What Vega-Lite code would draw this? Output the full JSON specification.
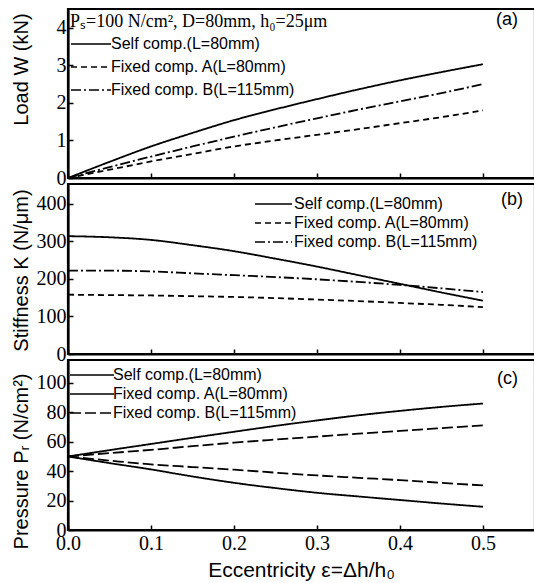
{
"$schema":"https://vega.github.io/schema/vega-lite/v6.json",
"padding":{"left":9,"top":7,"right":0,"bottom":0},
"spacing":6,
"bounds":"flush",
"config":{
 "view":{"stroke":"black","strokeWidth":2.2},
 "font":"Liberation Sans",
 "title":{"font":"Liberation Sans","fontSize":18,"fontWeight":"normal","color":"black","anchor":"end","frame":"group"},
 "axis":{"labelFont":"Liberation Serif","labelFontSize":20,"labelColor":"black","titleFont":"Liberation Sans","titleFontSize":20,"titleFontWeight":"normal","titleColor":"black","domainColor":"black","domainWidth":2.2,"tickColor":"black","tickWidth":1.5,"tickSize":-5,"grid":false,"labelFlush":false,"labelOverlap":false},
 "legend":{"symbolType":"M-1,0H3","symbolSize":400,"symbolStrokeColor":"black","symbolStrokeWidth":1.7,"labelFont":"Liberation Sans","labelFontSize":16,"labelColor":"black","labelOffset":19,"rowPadding":0,"padding":0,"titleFont":"Liberation Serif","titleFontSize":18,"titleFontWeight":"normal","titleColor":"black","titleLimit":400,"labelLimit":300}
},
"datasets":{"d":[
{"p":"a","s":"Self comp.(L=80mm)","b":"u","x":0,"y":0},{"p":"a","s":"Self comp.(L=80mm)","b":"u","x":0.05,"y":0.43},{"p":"a","s":"Self comp.(L=80mm)","b":"u","x":0.1,"y":0.84},{"p":"a","s":"Self comp.(L=80mm)","b":"u","x":0.15,"y":1.2},{"p":"a","s":"Self comp.(L=80mm)","b":"u","x":0.2,"y":1.54},{"p":"a","s":"Self comp.(L=80mm)","b":"u","x":0.25,"y":1.83},{"p":"a","s":"Self comp.(L=80mm)","b":"u","x":0.3,"y":2.1},{"p":"a","s":"Self comp.(L=80mm)","b":"u","x":0.35,"y":2.36},{"p":"a","s":"Self comp.(L=80mm)","b":"u","x":0.4,"y":2.6},{"p":"a","s":"Self comp.(L=80mm)","b":"u","x":0.45,"y":2.82},{"p":"a","s":"Self comp.(L=80mm)","b":"u","x":0.5,"y":3.03},
{"p":"a","s":"Fixed comp. A(L=80mm)","b":"u","x":0,"y":0},{"p":"a","s":"Fixed comp. A(L=80mm)","b":"u","x":0.05,"y":0.22},{"p":"a","s":"Fixed comp. A(L=80mm)","b":"u","x":0.1,"y":0.44},{"p":"a","s":"Fixed comp. A(L=80mm)","b":"u","x":0.15,"y":0.64},{"p":"a","s":"Fixed comp. A(L=80mm)","b":"u","x":0.2,"y":0.84},{"p":"a","s":"Fixed comp. A(L=80mm)","b":"u","x":0.25,"y":1.0},{"p":"a","s":"Fixed comp. A(L=80mm)","b":"u","x":0.3,"y":1.15},{"p":"a","s":"Fixed comp. A(L=80mm)","b":"u","x":0.35,"y":1.3},{"p":"a","s":"Fixed comp. A(L=80mm)","b":"u","x":0.4,"y":1.46},{"p":"a","s":"Fixed comp. A(L=80mm)","b":"u","x":0.45,"y":1.62},{"p":"a","s":"Fixed comp. A(L=80mm)","b":"u","x":0.5,"y":1.8},
{"p":"a","s":"Fixed comp. B(L=115mm)","b":"u","x":0,"y":0},{"p":"a","s":"Fixed comp. B(L=115mm)","b":"u","x":0.05,"y":0.29},{"p":"a","s":"Fixed comp. B(L=115mm)","b":"u","x":0.1,"y":0.57},{"p":"a","s":"Fixed comp. B(L=115mm)","b":"u","x":0.15,"y":0.84},{"p":"a","s":"Fixed comp. B(L=115mm)","b":"u","x":0.2,"y":1.1},{"p":"a","s":"Fixed comp. B(L=115mm)","b":"u","x":0.25,"y":1.35},{"p":"a","s":"Fixed comp. B(L=115mm)","b":"u","x":0.3,"y":1.59},{"p":"a","s":"Fixed comp. B(L=115mm)","b":"u","x":0.35,"y":1.82},{"p":"a","s":"Fixed comp. B(L=115mm)","b":"u","x":0.4,"y":2.04},{"p":"a","s":"Fixed comp. B(L=115mm)","b":"u","x":0.45,"y":2.26},{"p":"a","s":"Fixed comp. B(L=115mm)","b":"u","x":0.5,"y":2.5},
{"p":"b","s":"Self comp.(L=80mm)","b":"u","x":0,"y":314},{"p":"b","s":"Self comp.(L=80mm)","b":"u","x":0.05,"y":311},{"p":"b","s":"Self comp.(L=80mm)","b":"u","x":0.1,"y":304},{"p":"b","s":"Self comp.(L=80mm)","b":"u","x":0.15,"y":290},{"p":"b","s":"Self comp.(L=80mm)","b":"u","x":0.2,"y":274},{"p":"b","s":"Self comp.(L=80mm)","b":"u","x":0.25,"y":254},{"p":"b","s":"Self comp.(L=80mm)","b":"u","x":0.3,"y":233},{"p":"b","s":"Self comp.(L=80mm)","b":"u","x":0.35,"y":210},{"p":"b","s":"Self comp.(L=80mm)","b":"u","x":0.4,"y":187},{"p":"b","s":"Self comp.(L=80mm)","b":"u","x":0.45,"y":164},{"p":"b","s":"Self comp.(L=80mm)","b":"u","x":0.5,"y":142},
{"p":"b","s":"Fixed comp. A(L=80mm)","b":"u","x":0,"y":158},{"p":"b","s":"Fixed comp. A(L=80mm)","b":"u","x":0.05,"y":157},{"p":"b","s":"Fixed comp. A(L=80mm)","b":"u","x":0.1,"y":156},{"p":"b","s":"Fixed comp. A(L=80mm)","b":"u","x":0.15,"y":154},{"p":"b","s":"Fixed comp. A(L=80mm)","b":"u","x":0.2,"y":152},{"p":"b","s":"Fixed comp. A(L=80mm)","b":"u","x":0.25,"y":149},{"p":"b","s":"Fixed comp. A(L=80mm)","b":"u","x":0.3,"y":145},{"p":"b","s":"Fixed comp. A(L=80mm)","b":"u","x":0.35,"y":141},{"p":"b","s":"Fixed comp. A(L=80mm)","b":"u","x":0.4,"y":136},{"p":"b","s":"Fixed comp. A(L=80mm)","b":"u","x":0.45,"y":131},{"p":"b","s":"Fixed comp. A(L=80mm)","b":"u","x":0.5,"y":125},
{"p":"b","s":"Fixed comp. B(L=115mm)","b":"u","x":0,"y":222},{"p":"b","s":"Fixed comp. B(L=115mm)","b":"u","x":0.05,"y":222},{"p":"b","s":"Fixed comp. B(L=115mm)","b":"u","x":0.1,"y":220},{"p":"b","s":"Fixed comp. B(L=115mm)","b":"u","x":0.15,"y":215},{"p":"b","s":"Fixed comp. B(L=115mm)","b":"u","x":0.2,"y":210},{"p":"b","s":"Fixed comp. B(L=115mm)","b":"u","x":0.25,"y":205},{"p":"b","s":"Fixed comp. B(L=115mm)","b":"u","x":0.3,"y":199},{"p":"b","s":"Fixed comp. B(L=115mm)","b":"u","x":0.35,"y":192},{"p":"b","s":"Fixed comp. B(L=115mm)","b":"u","x":0.4,"y":184},{"p":"b","s":"Fixed comp. B(L=115mm)","b":"u","x":0.45,"y":175},{"p":"b","s":"Fixed comp. B(L=115mm)","b":"u","x":0.5,"y":165},
{"p":"c","s":"Self comp.(L=80mm)","b":"u","x":0,"y":50},{"p":"c","s":"Self comp.(L=80mm)","b":"u","x":0.05,"y":54.3},{"p":"c","s":"Self comp.(L=80mm)","b":"u","x":0.1,"y":58.5},{"p":"c","s":"Self comp.(L=80mm)","b":"u","x":0.15,"y":62.7},{"p":"c","s":"Self comp.(L=80mm)","b":"u","x":0.2,"y":66.8},{"p":"c","s":"Self comp.(L=80mm)","b":"u","x":0.25,"y":70.8},{"p":"c","s":"Self comp.(L=80mm)","b":"u","x":0.3,"y":74.5},{"p":"c","s":"Self comp.(L=80mm)","b":"u","x":0.35,"y":78},{"p":"c","s":"Self comp.(L=80mm)","b":"u","x":0.4,"y":81},{"p":"c","s":"Self comp.(L=80mm)","b":"u","x":0.45,"y":83.7},{"p":"c","s":"Self comp.(L=80mm)","b":"u","x":0.5,"y":86},
{"p":"c","s":"Self comp.(L=80mm)","b":"l","x":0,"y":50},{"p":"c","s":"Self comp.(L=80mm)","b":"l","x":0.05,"y":45.5},{"p":"c","s":"Self comp.(L=80mm)","b":"l","x":0.1,"y":41.2},{"p":"c","s":"Self comp.(L=80mm)","b":"l","x":0.15,"y":36.4},{"p":"c","s":"Self comp.(L=80mm)","b":"l","x":0.2,"y":32.1},{"p":"c","s":"Self comp.(L=80mm)","b":"l","x":0.25,"y":28.5},{"p":"c","s":"Self comp.(L=80mm)","b":"l","x":0.3,"y":25.3},{"p":"c","s":"Self comp.(L=80mm)","b":"l","x":0.35,"y":22.8},{"p":"c","s":"Self comp.(L=80mm)","b":"l","x":0.4,"y":20.4},{"p":"c","s":"Self comp.(L=80mm)","b":"l","x":0.45,"y":18},{"p":"c","s":"Self comp.(L=80mm)","b":"l","x":0.5,"y":15.8},
{"p":"c","s":"Fixed comp. B(L=115mm)","b":"u","x":0,"y":50},{"p":"c","s":"Fixed comp. B(L=115mm)","b":"u","x":0.05,"y":52.3},{"p":"c","s":"Fixed comp. B(L=115mm)","b":"u","x":0.1,"y":54.5},{"p":"c","s":"Fixed comp. B(L=115mm)","b":"u","x":0.15,"y":57},{"p":"c","s":"Fixed comp. B(L=115mm)","b":"u","x":0.2,"y":59.4},{"p":"c","s":"Fixed comp. B(L=115mm)","b":"u","x":0.25,"y":61.5},{"p":"c","s":"Fixed comp. B(L=115mm)","b":"u","x":0.3,"y":63.5},{"p":"c","s":"Fixed comp. B(L=115mm)","b":"u","x":0.35,"y":65.5},{"p":"c","s":"Fixed comp. B(L=115mm)","b":"u","x":0.4,"y":67.4},{"p":"c","s":"Fixed comp. B(L=115mm)","b":"u","x":0.45,"y":69.3},{"p":"c","s":"Fixed comp. B(L=115mm)","b":"u","x":0.5,"y":71.2},
{"p":"c","s":"Fixed comp. B(L=115mm)","b":"l","x":0,"y":50},{"p":"c","s":"Fixed comp. B(L=115mm)","b":"l","x":0.05,"y":47.2},{"p":"c","s":"Fixed comp. B(L=115mm)","b":"l","x":0.1,"y":44.6},{"p":"c","s":"Fixed comp. B(L=115mm)","b":"l","x":0.15,"y":42.8},{"p":"c","s":"Fixed comp. B(L=115mm)","b":"l","x":0.2,"y":41},{"p":"c","s":"Fixed comp. B(L=115mm)","b":"l","x":0.25,"y":39},{"p":"c","s":"Fixed comp. B(L=115mm)","b":"l","x":0.3,"y":37.1},{"p":"c","s":"Fixed comp. B(L=115mm)","b":"l","x":0.35,"y":35.5},{"p":"c","s":"Fixed comp. B(L=115mm)","b":"l","x":0.4,"y":33.9},{"p":"c","s":"Fixed comp. B(L=115mm)","b":"l","x":0.45,"y":32.1},{"p":"c","s":"Fixed comp. B(L=115mm)","b":"l","x":0.5,"y":30.3}
]},
"resolve":{"scale":{"strokeDash":"independent"},"legend":{"strokeDash":"independent"}},
"vconcat":[
{"width":467,"height":169,
 "title":{"text":"(a)","offset":-20,"dx":-17},
 "data":{"name":"d"},"transform":[{"filter":"datum.p=='a'"}],
 "mark":{"type":"line","strokeWidth":1.8,"color":"black","interpolate":"monotone"},
 "encoding":{
  "x":{"field":"x","type":"quantitative","scale":{"domain":[0,0.5627],"nice":false},"axis":{"title":null,"labels":false,"values":[0,0.1,0.2,0.3,0.4,0.5]}},
  "y":{"field":"y","type":"quantitative","scale":{"domain":[0,4.5],"nice":false},"axis":{"title":"Load  W (kN)","values":[0,1,2,3,4],"labelOverlap":false,"labelPadding":7,"titleX":-47,"titleY":60,"titleAngle":-90,"titleAlign":"center","titleBaseline":"middle"}},
  "strokeDash":{"field":"s","type":"nominal","scale":{"domain":["Self comp.(L=80mm)","Fixed comp. A(L=80mm)","Fixed comp. B(L=115mm)"],"range":[[1,0],[6,4],[10,3,2,3]]},
    "legend":{"title":"Pₛ=100 N/cm², D=80mm, h₀=25μm","orient":"none","legendX":2,"legendY":4,"titlePadding":2,"rowPadding":4}},
  "detail":{"field":"b"}}},
{"width":467,"height":170,
 "title":{"text":"(b)","offset":-25,"dx":-12},
 "data":{"name":"d"},"transform":[{"filter":"datum.p=='b'"}],
 "mark":{"type":"line","strokeWidth":1.8,"color":"black","interpolate":"monotone"},
 "encoding":{
  "x":{"field":"x","type":"quantitative","scale":{"domain":[0,0.5627],"nice":false},"axis":{"title":null,"labels":false,"values":[0,0.1,0.2,0.3,0.4,0.5]}},
  "y":{"field":"y","type":"quantitative","scale":{"domain":[0,453],"nice":false},"axis":{"title":"Stiffness  K (N/μm)","values":[0,100,200,300,400],"labelOverlap":false,"labelPadding":7,"titleX":-47,"titleY":86,"titleAngle":-90,"titleAlign":"center","titleBaseline":"middle"}},
  "strokeDash":{"field":"s","type":"nominal","scale":{"domain":["Self comp.(L=80mm)","Fixed comp. A(L=80mm)","Fixed comp. B(L=115mm)"],"range":[[1,0],[6,4],[10,3,2,3]]},
    "legend":{"title":null,"orient":"none","legendX":186,"legendY":9,"symbolType":"M-1,0H2.7","labelOffset":18}},
  "detail":{"field":"b"}}},
{"width":467,"height":170,
 "title":{"text":"(c)","offset":-28,"dx":-17},
 "data":{"name":"d"},"transform":[{"filter":"datum.p=='c'"}],
 "mark":{"type":"line","strokeWidth":1.8,"color":"black","interpolate":"monotone"},
 "encoding":{
  "x":{"field":"x","type":"quantitative","scale":{"domain":[0,0.5627],"nice":false},"axis":{"title":"Eccentricity  ε=Δh/h₀","values":[0,0.1,0.2,0.3,0.4,0.5],"format":".1f","labelPadding":8,"titleFontSize":21,"titleX":233,"titleY":40,"titleBaseline":"middle","titleAlign":"center"}},
  "y":{"field":"y","type":"quantitative","scale":{"domain":[0,115.6],"nice":false},"axis":{"title":"Pressure  Pᵣ (N/cm²)","values":[0,20,40,60,80,100],"labelOverlap":false,"labelPadding":7,"titleX":-47,"titleY":101,"titleAngle":-90,"titleAlign":"center","titleBaseline":"middle"}},
  "strokeDash":{"field":"s","type":"nominal","scale":{"domain":["Self comp.(L=80mm)","Fixed comp. A(L=80mm)","Fixed comp. B(L=115mm)"],"range":[[1,0],[1,0],[11,4]]},
    "legend":{"title":null,"orient":"none","legendX":1,"legendY":4,"symbolType":"M-1,0H3.4","labelOffset":22}},
  "detail":{"field":"b"}}}
]
}
